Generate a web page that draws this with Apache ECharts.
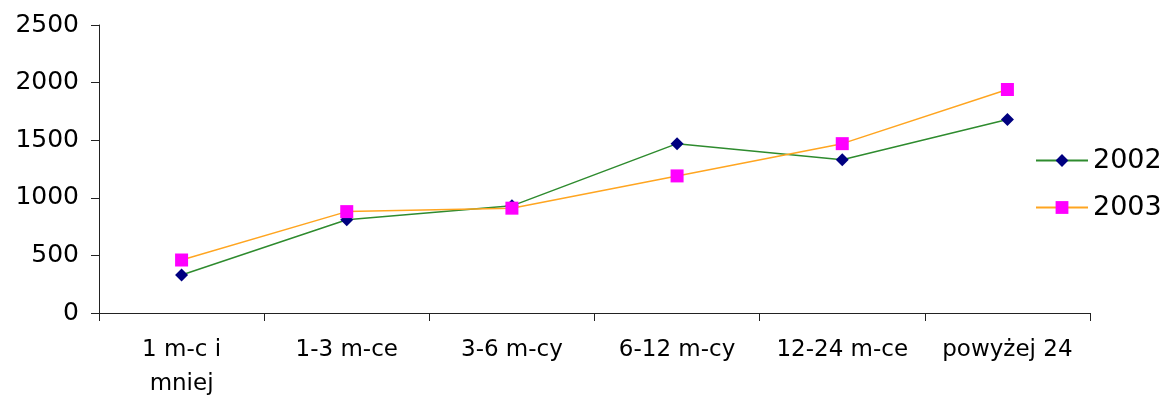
<!DOCTYPE html>
<html><head><meta charset="utf-8">
<script src="https://cdn.jsdelivr.net/npm/echarts@6/dist/echarts.min.js"></script>
<style>html,body{margin:0;padding:0;background:#fff}#c{width:1163px;height:396px}</style>
</head><body><div id="c"></div>
<script>
const categories = ['1 m-c i\nmniej', '1-3 m-ce', '3-6 m-cy', '6-12 m-cy', '12-24 m-ce', 'powyżej 24'];
const series2002 = [330, 810, 930, 1470, 1330, 1680];
const series2003 = [460, 880, 910, 1190, 1470, 1940];
const yTicks = [0, 500, 1000, 1500, 2000, 2500];

const chart = echarts.init(document.getElementById('c'), null, {renderer: 'canvas'});
const font = 'DejaVu Sans';
chart.setOption({
  animation: false,
  backgroundColor: '#fff',
  grid: {left: 99, right: 73, top: 25, bottom: 83, containLabel: false, outerBoundsMode: 'none'},
  legend: {
    orient: 'vertical', left: 1030, top: 142, itemGap: 20,
    itemWidth: 52, itemHeight: 16,
    textStyle: {fontFamily: font, fontSize: 27, color: '#000', padding: [0,0,0,0]},
    data: ['2002', '2003']
  },
  xAxis: {
    type: 'category', data: categories, boundaryGap: true,
    axisLine: {lineStyle: {color: '#222', width: 1}},
    axisTick: {show: true, length: 8, lineStyle: {color: '#222'}},
    axisLabel: {fontFamily: font, fontSize: 23, color: '#000', margin: 20, lineHeight: 34, interval: 0}
  },
  yAxis: {
    type: 'value', min: yTicks[0], max: yTicks[yTicks.length-1], interval: 500,
    splitLine: {show: false},
    axisLine: {show: true, lineStyle: {color: '#222', width: 1}},
    axisTick: {show: true, length: 8, lineStyle: {color: '#222'}},
    axisLabel: {fontFamily: font, fontSize: 25, color: '#000', margin: 20, formatter: v => String(v)}
  },
  series: [
    {name: '2002', type: 'line', data: series2002, symbol: 'diamond', symbolSize: 13,
     lineStyle: {color: '#2e8b2e', width: 1.5}, itemStyle: {color: '#000080'}},
    {name: '2003', type: 'line', data: series2003, symbol: 'rect', symbolSize: 13,
     lineStyle: {color: '#ffa520', width: 1.5}, itemStyle: {color: '#ff00ff'}}
  ]
});
</script></body></html>
